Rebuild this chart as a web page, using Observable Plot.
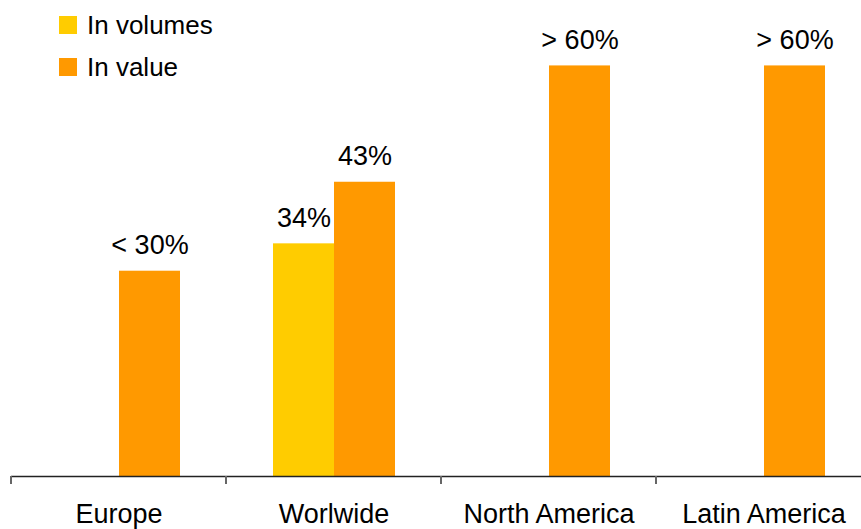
<!DOCTYPE html>
<html><head><meta charset="utf-8">
<script src="https://cdn.jsdelivr.net/npm/d3@7"></script>
<script src="https://cdn.jsdelivr.net/npm/@observablehq/plot@0.6"></script>
<style>
body{margin:0;background:#fff;font-family:"Liberation Sans",Arial,sans-serif;}
#wrap{position:relative;width:861px;height:529px;overflow:hidden;}
#legend{position:absolute;left:59px;top:4px;font-size:26px;color:#000;z-index:2;}
.item{display:flex;align-items:center;height:42px;}
.sw{width:18px;height:18px;margin-right:10px;flex:none;}
</style></head><body>
<div id="wrap"><div id="legend"></div></div>
<script>
const categories = ["Europe", "Worlwide", "North America", "Latin America"];
const series = ["In volumes", "In value"];
const colors = ["#FFCC00", "#FF9900"];
const volumeValues = [null, 34, null, null];
const valueValues = [30, 43, 60, 60];
const volumeLabels = [null, "34%", null, null];
const valueLabels = ["< 30%", "43%", "> 60%", "> 60%"];

const rows = [];
categories.forEach((c, i) => {
  if (volumeValues[i] != null) rows.push({category: c, series: series[0], value: volumeValues[i], label: volumeLabels[i]});
  if (valueValues[i] != null) rows.push({category: c, series: series[1], value: valueValues[i], label: valueLabels[i]});
});

const chart = Plot.plot({
  width: 861, height: 529,
  marginTop: 0, marginBottom: 53, marginLeft: 11, marginRight: -10,
  style: {fontFamily: "Liberation Sans, Arial, sans-serif", fontSize: "27px", color: "#000", background: "#fff", overflow: "hidden", maxWidth: "none"},
  fx: {domain: categories, padding: 0, label: null},
  x: {domain: series, paddingInner: 0, paddingOuter: 0.734, axis: null},
  y: {domain: [0, 69.56], axis: null},
  color: {domain: series, range: colors},
  marks: [
    Plot.barY(rows, {fx: "category", x: "series", y: "value", fill: "series"}),
    Plot.text(rows, {fx: "category", x: "series", y: "value", text: "label", lineAnchor: "bottom", dy: -17, fontSize: 27, fill: "#000"}),
    Plot.ruleY([0], {stroke: "#222", strokeWidth: 1.5}),
    Plot.axisFx({anchor: "bottom", tickSize: 0, tickPadding: 27, fontSize: 27, label: null, fill: "#000"})
  ]
});

// category separator ticks at band edges, placed via the fx and y scales
const fx = chart.scale("fx");
const y = chart.scale("y");
const y0 = y.apply(0);
const edges = categories.map(c => fx.apply(c));
edges.push(fx.apply(categories[categories.length - 1]) + fx.bandwidth);
const g = d3.select(chart).append("g");
g.selectAll("line").data(edges).join("line")
  .attr("x1", d => d).attr("x2", d => d)
  .attr("y1", y0).attr("y2", y0 + 8)
  .attr("stroke", "#666").attr("stroke-width", 2);

const wrap = document.getElementById("wrap");
wrap.insertBefore(chart, wrap.firstChild);

const legend = d3.select("#legend");
series.forEach((s, i) => {
  const item = legend.append("div").attr("class", "item");
  item.append("div").attr("class", "sw").style("background", colors[i]);
  item.append("span").text(s);
});
</script>
</body></html>
